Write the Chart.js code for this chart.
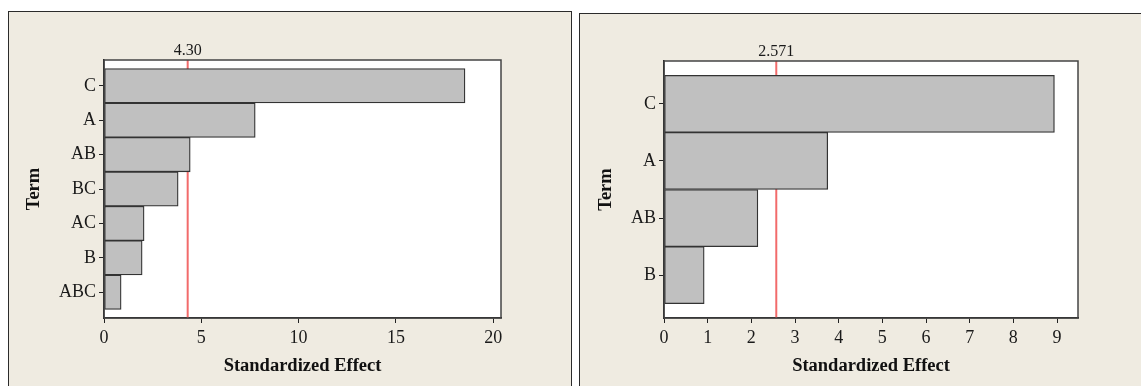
<!DOCTYPE html>
<html>
<head>
<meta charset="utf-8">
<script src="https://cdn.jsdelivr.net/npm/chart.js@4.4.1/dist/chart.umd.min.js"></script>
<style>
	body { margin: 0; background: #ffffff; width: 1141px; height: 386px; overflow: hidden; position: relative; }
	.panel { position: absolute; background: #EFEBE1; border: 1px solid #2b2b2b; border-bottom: none; }
	#panelLeft { left: 8px; top: 11px; width: 562px; height: 380px; }
	#panelRight { left: 579px; top: 13px; width: 600px; height: 380px; border-right: none; }
	canvas { position: absolute; top: 0; }
	#leftChart { left: 0; }
	#rightChart { left: 572px; }
</style>
</head>
<body>
<div class="panel" id="panelLeft"></div>
<div class="panel" id="panelRight"></div>
<canvas id="leftChart" width="572" height="386"></canvas>
<canvas id="rightChart" width="569" height="386"></canvas>
<script>
// left pareto chart (7 terms)
const leftTerms = ['C', 'A', 'AB', 'BC', 'AC', 'B', 'ABC'];
const leftEffects = [18.55, 7.77, 4.43, 3.81, 2.06, 1.96, 0.88];
const leftXTicks = [0, 5, 10, 15, 20];
const leftXMax = 20.4;
const leftCritical = 4.30;
const leftCriticalLabel = '4.30';

// right pareto chart (4 terms)
const rightTerms = ['C', 'A', 'AB', 'B'];
const rightEffects = [8.94, 3.75, 2.15, 0.92];
const rightXTicks = [0, 1, 2, 3, 4, 5, 6, 7, 8, 9];
const rightXMax = 9.48;
const rightCritical = 2.571;
const rightCriticalLabel = '2.571';

const serif = "'Liberation Serif', 'DejaVu Serif', serif";

buildParetoChart('leftChart', leftTerms, leftEffects, leftXTicks, leftXMax, leftCritical, leftCriticalLabel,
	{ top: 60, right: 71, yWidth: 104, xHeight: 68, termPad: 23 });
buildParetoChart('rightChart', rightTerms, rightEffects, rightXTicks, rightXMax, rightCritical, rightCriticalLabel,
	{ top: 61, right: 63, yWidth: 92, xHeight: 68, termPad: 23 });

function buildParetoChart(canvasId, terms, effects, xTicks, xMax, critical, criticalLabel, layout) {
	const ctx = document.getElementById(canvasId).getContext('2d');

	// plot background + red reference line behind bars, frame on top
	const paretoPlugin = {
		id: 'pareto',
		beforeDraw(chart) {
			const c = chart.ctx;
			const area = chart.chartArea;
			c.save();
			c.fillStyle = '#ffffff';
			c.fillRect(area.left, area.top, area.right - area.left, area.bottom - area.top);
			c.restore();
		},
		beforeDatasetsDraw(chart) {
			const c = chart.ctx;
			const area = chart.chartArea;
			const x = chart.scales.x.getPixelForValue(critical);
			c.save();
			c.strokeStyle = '#F26B6B';
			c.lineWidth = 2;
			c.beginPath();
			c.moveTo(x, area.top);
			c.lineTo(x, area.bottom);
			c.stroke();
			c.fillStyle = '#1a1a1a';
			c.font = '16px ' + serif;
			c.textAlign = 'center';
			c.textBaseline = 'middle';
			c.fillText(criticalLabel, x, area.top - 9.5);
			c.restore();
		},
		afterDraw(chart) {
			const c = chart.ctx;
			const area = chart.chartArea;
			c.save();
			c.strokeStyle = '#444444';
			c.lineWidth = 1.5;
			c.strokeRect(area.left, area.top, area.right - area.left, area.bottom - area.top);
			c.restore();
		}
	};

	new Chart(ctx, {
		type: 'bar',
		data: {
			datasets: [{
				label: 'Standardized Effect',
				data: terms.map((t, i) => ({ x: effects[i], y: i })),
				backgroundColor: '#C0C0C0',
				borderColor: '#333333',
				borderWidth: 1.3,
				borderSkipped: false,
				barPercentage: 1,
				categoryPercentage: 1
			}]
		},
		options: {
			indexAxis: 'y',
			responsive: false,
			animation: false,
			layout: {
				padding: { top: layout.top, right: layout.right, left: 0, bottom: 0 }
			},
			scales: {
				x: {
					type: 'linear',
					min: 0,
					max: xMax,
					offset: false,
					afterBuildTicks: scale => { scale.ticks = xTicks.map(v => ({ value: v })); },
					afterFit: scale => { scale.height = layout.xHeight; },
					grid: { offset: false, drawOnChartArea: false, drawTicks: true, tickLength: 5, color: '#222222' },
					border: { display: true, color: '#111111', width: 1.5 },
					ticks: {
						color: '#1a1a1a',
						padding: 4,
						maxRotation: 0,
						autoSkip: false,
						font: { family: serif, size: 18 }
					},
					title: {
						display: true,
						text: 'Standardized Effect',
						color: '#111111',
						font: { family: serif, size: 18.5, weight: 'bold' },
						padding: { top: 0, bottom: 9 }
					}
				},
				y: {
					type: 'linear',
					reverse: true,
					min: -0.75,
					max: terms.length - 0.25,
					offset: false,
					afterBuildTicks: scale => { scale.ticks = terms.map((t, i) => ({ value: i })); },
					afterFit: scale => { scale.width = layout.yWidth; },
					grid: { offset: false, drawOnChartArea: false, drawTicks: true, tickLength: 5, color: '#222222' },
					border: { display: true, color: '#111111', width: 1.5 },
					ticks: {
						color: '#1a1a1a',
						padding: 3,
						autoSkip: false,
						font: { family: serif, size: 18 },
						callback: value => terms[value]
					},
					title: {
						display: true,
						text: 'Term',
						color: '#111111',
						font: { family: serif, size: 18.5, weight: 'bold' },
						padding: { top: layout.termPad, bottom: 0 }
					}
				}
			},
			plugins: {
				legend: { display: false },
				tooltip: { enabled: false }
			}
		},
		plugins: [paretoPlugin]
	});
}
</script>
</body>
</html>
